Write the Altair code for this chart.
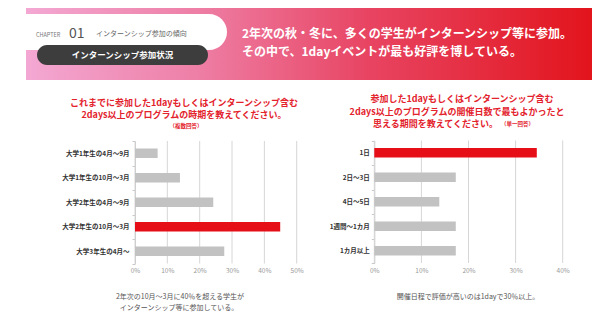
import altair as alt
import pandas as pd

FONT = "Noto Sans CJK JP"
RED = "#e60f17"
GRAY = "#c2c2c2"
TITLE_RED = "#e3222c"

# ---------------- data ----------------
left_categories = ["大学1年生の4月～9月", "大学1年生の10月～3月", "大学2年生の4月～9月",
                   "大学2年生の10月～3月", "大学3年生の4月～"]
left_values = [7.0, 13.9, 24.2, 44.9, 27.6]
left_highlight = ["no", "no", "no", "yes", "no"]
left_ticks = [0, 10, 20, 30, 40, 50]

right_categories = ["1日", "2日～3日", "4日～5日", "1週間～1カ月", "1カ月以上"]
right_values = [34.5, 17.3, 13.8, 17.3, 17.3]
right_highlight = ["yes", "no", "no", "no", "no"]
right_ticks = [0, 10, 20, 30, 40]

chapter_label = ["CHAPTER", "01", "インターンシップ参加の傾向"]
section_label = "インターンシップ参加状況"
headline = ["2年次の秋・冬に、多くの学生がインターンシップ等に参加。",
            "その中で、1dayイベントが最も好評を博している。"]
left_title = ["これまでに参加した1dayもしくはインターンシップ含む",
              "2days以上のプログラムの時期を教えてください。",
              "（複数回答）"]
right_title = ["参加した1dayもしくはインターンシップ含む",
               "2days以上のプログラムの開催日数で最もよかったと",
               "思える期間を教えてください。",
               "（単一回答）"]
left_note = ["2年次の10月～3月に40％を超える学生が", "インターンシップ等に参加している。"]
right_note = ["開催日程で評価が高いのは1dayで30％以上。"]

one = pd.DataFrame({"a": [0]})


def deco_rect(x, x2, y, y2, **kw):
    return alt.Chart(one).mark_rect(**kw).encode(
        x=alt.value(x), x2=alt.value(x2), y=alt.value(y), y2=alt.value(y2))


def txt(s, x, y, size, color, weight="normal", align="left", baseline="middle"):
    return alt.Chart(one).mark_text(
        text=s, font=FONT, fontSize=size, color=color, fontWeight=weight,
        align=align, baseline=baseline).encode(x=alt.value(x), y=alt.value(y))


def bar_group(cats, vals, hl, ticks, x_range, y_range, label_pad):
    df = pd.DataFrame({"cat": cats, "val": vals, "hl": hl})
    tdf = pd.DataFrame({"val": ticks})
    xscale = alt.Scale(domain=[0, ticks[-1]], range=x_range, nice=False, zero=True)
    yscale = alt.Scale(domain=cats, range=y_range, paddingInner=0, paddingOuter=0)
    xaxis = alt.Axis(values=ticks, labelExpr="datum.value + '%'", title=None,
                     orient="bottom", offset=y_range[1] - 334, domain=False, ticks=False,
                     grid=False, labelFlush=False, labelFont=FONT, labelFontSize=6.5,
                     labelColor="#999999", labelPadding=4)
    yaxis = alt.Axis(title=None, orient="left", offset=-x_range[0], grid=False,
                     tickBand="extent", tickSize=3, tickColor="#c8c8c8", domainColor="#c8c8c8",
                     labelFont=FONT, labelFontSize=6.5, labelFontWeight="bold",
                     labelColor="#333333", labelPadding=label_pad)
    grid = alt.Chart(tdf).mark_rule(color="#d6d6d6", strokeWidth=1).encode(
        x=alt.X("val:Q", scale=xscale, axis=xaxis),
        y=alt.value(y_range[0]), y2=alt.value(y_range[1]))
    bars = alt.Chart(df).mark_bar(size=9.5).encode(
        x=alt.X("val:Q", scale=xscale, axis=xaxis),
        y=alt.Y("cat:N", scale=yscale, axis=yaxis, sort=None),
        color=alt.Color("hl:N", scale=alt.Scale(domain=["yes", "no"], range=[RED, GRAY]),
                        legend=None))
    return alt.layer(grid, bars)


banner = deco_rect(26, 592, 8, 80, color=alt.Gradient(
    gradient="linear", x1=0, x2=1, y1=0, y2=0,
    stops=[alt.GradientStop(color="#f3a8d3", offset=0),
           alt.GradientStop(color="#ee7fa6", offset=0.3),
           alt.GradientStop(color="#e84563", offset=0.6),
           alt.GradientStop(color="#e2141c", offset=1)]))
tab = deco_rect(26, 227, 14, 50, color="white", cornerRadiusTopRight=18,
                cornerRadiusBottomRight=18)
pill = deco_rect(37, 208, 45, 65, color="#3d3d3d", cornerRadius=10)

header = [
    banner, tab, pill,
    txt(chapter_label[0], 36, 35, 5.5, "#777777"),
    txt(chapter_label[1], 69, 38, 14, "#555555", baseline="alphabetic"),
    txt(chapter_label[2], 96, 34, 7, "#666666"),
    txt(section_label, 122.5, 55, 8.5, "white", weight="bold", align="center"),
    txt(headline[0], 242, 34, 12, "white", weight="bold"),
    txt(headline[1], 242, 52, 12, "white", weight="bold"),
]

titles = [
    txt(left_title[0], 184, 103, 9, TITLE_RED, weight="bold", align="center"),
    txt(left_title[1], 184, 115, 9, TITLE_RED, weight="bold", align="center"),
    txt(left_title[2], 186, 125.5, 5.5, TITLE_RED, weight="bold", align="center"),
    txt(right_title[0], 462, 98.5, 9, TITLE_RED, weight="bold", align="center"),
    txt(right_title[1], 457, 111.5, 9, TITLE_RED, weight="bold", align="center"),
    txt(right_title[2], 498, 123.5, 9, TITLE_RED, weight="bold", align="right"),
    txt(right_title[3], 501, 123.5, 5.5, TITLE_RED, weight="bold", align="left"),
    txt(left_note[0], 180, 297, 7, "#555555", align="center"),
    txt(left_note[1], 179, 308, 7, "#555555", align="center"),
    txt(right_note[0], 468, 297, 7, "#555555", align="center"),
]

left = bar_group(left_categories, left_values, left_highlight, left_ticks,
                 [135, 296.7], [141, 263.5], 3)
right = bar_group(right_categories, right_values, right_highlight, right_ticks,
                  [374.3, 562.7], [140.5, 263], 2)

chart = alt.layer(*header, *titles, left, right).resolve_scale(
    x="independent", y="independent", color="independent"
).properties(
    width=609, height=334, padding=0,
    autosize=alt.AutoSizeParams(type="none"),
    background="white",
).configure_view(stroke=None)

chart.save("out.html", embed_options={"renderer": "svg", "actions": False})
